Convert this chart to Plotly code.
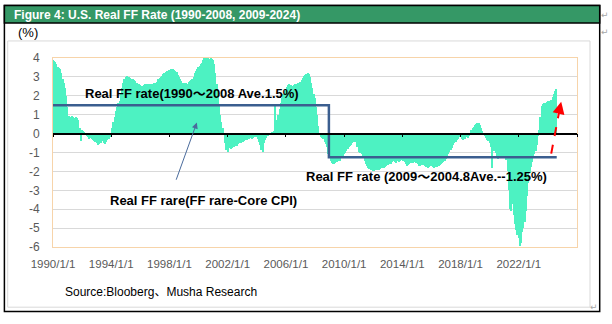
import plotly.graph_objects as go
import pandas as pd

# ---------------- data (monthly real FF rate, %) ----------------
ff_1990s = [
    3.9, 3.85, 3.8, 3.7, 3.5, 3.45, 3.4, 3.2, 2.9, 2.7, 2.4, 2.0,
    1.4, 0.95, 0.9, 0.85, 0.95, 0.9, 0.8, 0.9, 0.85, 0.7, 0.3, -0.4,
    0.2, 0.15, 0.1, -0.1, -0.15, -0.2, -0.3, -0.25, -0.3, -0.35, -0.4, -0.45,
    -0.5, -0.6, -0.55, -0.45, -0.5, -0.4, -0.5, -0.55, -0.45, -0.35, -0.3, -0.2,
    -0.05, 0.3, 0.6, 0.9, 1.2, 1.4, 1.6, 1.75, 2.1, 2.4, 2.7, 2.9,
    3.0, 3.05, 3.0, 3.0, 2.95, 2.9, 2.9, 2.85, 2.8, 2.7, 2.65, 2.6,
    2.55, 2.5, 2.5, 2.55, 2.6, 2.55, 2.6, 2.6, 2.65, 2.6, 2.65, 2.7,
    2.7, 2.7, 2.75, 2.9, 2.95, 3.0, 3.05, 3.15, 3.2, 3.25, 3.3, 3.3,
    3.35, 3.4, 3.35, 3.4, 3.35, 3.3, 3.25, 3.1, 3.0, 2.9, 2.8, 2.7,
    2.7, 2.65, 2.7, 2.6, 2.75, 2.8, 2.85, 2.9, 3.0, 3.2, 3.3, 3.4,
]
ff_2000s = [
    3.5, 3.6, 3.7, 3.75, 3.9, 4.0, 4.05, 4.0, 4.0, 3.95, 4.0, 3.95,
    3.9, 3.7, 3.2, 2.6, 2.0, 1.5, 1.0, 0.6, 0.3, -0.1, -0.5, -0.85,
    -0.95, -0.75, -0.7, -0.8, -0.75, -0.7, -0.65, -0.6, -0.65, -0.55, -0.5, -0.5,
    -0.45, -0.45, -0.4, -0.35, -0.35, -0.3, -0.3, -0.25, -0.3, -0.25, -0.2, -0.2,
    -0.2, -0.3, -0.45, -0.6, -0.85, -0.95, -0.5, -0.35, -0.25, -0.15, -0.1, -0.05,
    0.0, 0.05, 0.15, 1.5, 0.4, 0.7, 1.0, 1.3, 1.6, 1.9, 2.1, 2.25,
    2.35, 2.45, 2.55, 2.6, 2.55, 2.5, 2.5, 2.55, 2.6, 2.65, 2.7, 2.7,
    2.75, 2.85, 2.95, 3.05, 3.1, 3.15, 3.2, 3.15, 3.0, 2.7, 2.4, 2.1,
    1.9, 1.4, 1.0, 0.4, 0.0, -0.2, -0.25, -0.3, -0.45, -0.55, -0.7, -1.1,
    -1.3, -1.45, -1.55, -1.6, -1.6, -1.55, -1.5, -1.45, -1.3, -1.45, -1.3, -1.2,
]
ff_2010s = [
    -1.1, -1.0, -0.9, -0.8, -0.7, -0.65, -0.6, -0.5, -0.45, -0.35, -0.45, -0.7,
    -0.95, -1.0, -1.05, -1.1, -1.3, -1.45, -1.6, -1.7, -1.8, -1.85, -1.9, -1.95,
    -2.0, -2.0, -1.95, -1.9, -1.85, -1.9, -1.85, -1.8, -1.75, -1.8, -1.75, -1.7,
    -1.65, -1.6, -1.55, -1.6, -1.5, -1.45, -1.5, -1.55, -1.45, -1.5, -1.45, -1.4,
    -1.4, -1.45, -1.5, -1.6, -1.7, -1.65, -1.6, -1.55, -1.5, -1.55, -1.5, -1.55,
    -1.55, -1.6, -1.7, -1.7, -1.65, -1.6, -1.65, -1.7, -1.75, -1.8, -1.75, -1.7,
    -1.7, -1.75, -1.8, -1.75, -1.7, -1.75, -1.7, -1.65, -1.6, -1.55, -1.5, -1.45,
    -1.35, -1.25, -1.1, -0.95, -0.85, -0.75, -0.6, -0.5, -0.45, -0.35, -0.3, -0.2,
    -0.15, -0.3, -0.35, -0.25, -0.3, -0.2, -0.25, -0.15, -0.1, 0.2, 0.3, 0.35,
    0.45, 0.5, 0.55, 0.55, 0.45, 0.3, 0.15, 0.0, -0.15, -0.25, -0.35, -0.4,
]
ff_2020s = [
    -0.5, -0.7, -1.8, -0.8, -0.9, -1.0, -1.2, -1.35, -1.25, -1.3, -1.2, -1.25,
    -1.3, -1.2, -1.4, -2.0, -3.0, -4.0, -4.1, -3.7, -4.3, -4.8, -5.1, -5.35,
    -5.5, -5.95, -5.8, -5.2, -5.0, -4.7, -4.1, -3.3, -2.6, -2.1, -1.75, -1.5,
    -1.3, -1.1, -0.9, -0.6, -0.15, 0.2, 0.9, 1.45, 1.55, 1.6, 1.6, 1.65,
    1.7, 1.7, 1.75, 1.8, 1.95, 2.1, 2.25, 2.35,
]

# period averages (step line)
avg_dates = ["1990-01-01", "2008-12-15", "2024-08-10"]
avg_values = [1.5, -1.25, -1.25]

# axis ticks
tick_years = [1990, 1994, 1998, 2002, 2006, 2010, 2014, 2018, 2022]
tick_labels = [f"{y}/1/1" for y in tick_years]
minor_tick_years = tick_years + [2026]
y_ticks = [4, 3, 2, 1, 0, -1, -2, -3, -4, -5, -6]
y_tick_labels = [str(v) for v in y_ticks]

# annotation arrows (data coords)
blue_arrow_tail = ("1998-06-06", -2.52)
blue_arrow_head = ("1999-11-20", 0.585)
red_arrow_tail = ("2024-03-25", -1.06)
red_arrow_mid = ("2024-11-01", 1.40)
red_arrow_head = ("2024-12-01", 1.68)

values = ff_1990s + ff_2000s + ff_2010s + ff_2020s
dates = pd.date_range("1990-01-01", periods=len(values), freq="MS")

# ---------------- layout geometry ----------------
W, H = 612, 324
L, R, T, B = 53.3, 577.3, 58.3, 246.7


def px(x):
    return (x - L) / (R - L)


def py(y):
    return (B - y) / (B - T)


FONT = "Liberation Sans, Arial, Noto Sans CJK JP, sans-serif"
GREEN = "#4DF2C2"
BLUE = "#3B5E8F"
PEACH = "#F7D4AA"

fig = go.Figure()

fig.add_trace(go.Bar(
    x=dates, y=values, marker=dict(color=GREEN, line=dict(width=0)),
    width=31 * 86400000, hoverinfo="skip", showlegend=False,
))

fig.add_trace(go.Scatter(
    x=avg_dates, y=avg_values, mode="lines", line=dict(color=BLUE, width=2.5, shape="hv"),
    xaxis="x2", yaxis="y", showlegend=False, hoverinfo="skip",
))

x_range = ["1990-01-01", "2026-01-01"]

fig.update_layout(
    width=W, height=H,
    margin=dict(l=L, r=W - R, t=T, b=H - B, pad=0),
    paper_bgcolor="white", plot_bgcolor="white",
    bargap=0, showlegend=False,
    xaxis=dict(
        range=x_range, type="date",
        tickvals=[f"{y}-01-01" for y in tick_years], ticktext=tick_labels,
        tickfont=dict(family=FONT, size=11.5, color="#595959"),
        showgrid=False, zeroline=False,
        showline=True, mirror=True, linecolor=PEACH, linewidth=1,
        ticks="", ticklabelstandoff=6,
    ),
    xaxis2=dict(
        range=x_range, type="date", overlaying="x", anchor="free", position=0.6,
        side="bottom", showgrid=False, zeroline=False,
        showline=True, linecolor="black", linewidth=1.5,
        tickvals=[f"{y}-01-01" for y in minor_tick_years],
        ticks="outside", ticklen=3, tickwidth=1, tickcolor="black",
        showticklabels=False,
    ),
    yaxis=dict(
        range=[-6, 4], tickvals=y_ticks, ticktext=y_tick_labels,
        tickfont=dict(family=FONT, size=12, color="#595959"),
        showgrid=True, gridcolor="#D9D9D9", gridwidth=1, zeroline=False,
        showline=True, mirror=True, linecolor=PEACH, linewidth=1,
        ticks="", ticklabelstandoff=10,
    ),
)

shapes = [
    # outer black frame
    dict(type="rect", xref="paper", yref="paper", x0=px(4.7), x1=px(600), y0=py(311), y1=py(6),
         line=dict(color="black", width=1.5), fillcolor="rgba(0,0,0,0)", layer="below"),
    # green title bar
    dict(type="rect", xref="paper", yref="paper", x0=px(4.7), x1=px(600), y0=py(23.3), y1=py(6),
         line=dict(color="black", width=1.5), fillcolor="#359866", layer="below"),
    # inner grey chart frame
    dict(type="rect", xref="paper", yref="paper", x0=px(8), x1=px(590.3), y0=py(306.7), y1=py(41.3),
         line=dict(color="#D9D9D9", width=1), fillcolor="rgba(0,0,0,0)", layer="below"),
    # red dashed arrow shaft
    dict(type="line", xref="x", yref="y", x0=red_arrow_tail[0], y0=red_arrow_tail[1],
         x1=red_arrow_mid[0], y1=red_arrow_mid[1], line=dict(color="#FF0000", width=2, dash="dash")),
]
fig.update_layout(shapes=shapes)

ann = []
ann.append(dict(xref="paper", yref="paper", x=px(12), y=py(15), xanchor="left", yanchor="middle",
                text="<b>Figure 4: U.S. Real FF Rate (1990-2008, 2009-2024)</b>", showarrow=False,
                font=dict(family=FONT, size=12, color="white")))
ann.append(dict(xref="paper", yref="paper", x=px(16), y=py(33), xanchor="left", yanchor="middle",
                text="(%)", showarrow=False, font=dict(family=FONT, size=13, color="black")))
ann.append(dict(xref="paper", yref="paper", x=px(83), y=py(93.3), xanchor="left", yanchor="middle",
                text="<b>Real FF rate(1990～2008 Ave.1.5%)</b>", showarrow=False,
                font=dict(family=FONT, size=13, color="black")))
ann.append(dict(xref="paper", yref="paper", x=px(108), y=py(200.7), xanchor="left", yanchor="middle",
                text="<b>Real FF rare(FF rare-Core CPI)</b>", showarrow=False,
                font=dict(family=FONT, size=13, color="black")))
ann.append(dict(xref="paper", yref="paper", x=px(304), y=py(176), xanchor="left", yanchor="middle",
                text="<b>Real FF rate (2009～2004.8Ave.--1.25%)</b>", showarrow=False,
                font=dict(family=FONT, size=13, color="black")))
ann.append(dict(xref="paper", yref="paper", x=px(63), y=py(291.5), xanchor="left", yanchor="middle",
                text="Source:Blooberg、Musha Research", showarrow=False,
                font=dict(family=FONT, size=12, color="black")))
# blue pointer arrow
ann.append(dict(xref="x", yref="y", axref="x", ayref="y",
                x=blue_arrow_head[0], y=blue_arrow_head[1], ax=blue_arrow_tail[0], ay=blue_arrow_tail[1],
                text="", showarrow=True, arrowhead=2, arrowsize=1.2, arrowwidth=1, arrowcolor="#4A6B9C"))
# red arrow head
ann.append(dict(xref="x", yref="y", axref="x", ayref="y",
                x=red_arrow_head[0], y=red_arrow_head[1], ax=red_arrow_mid[0], ay=red_arrow_mid[1],
                text="", showarrow=True, arrowhead=2, arrowsize=1.2, arrowwidth=2, arrowcolor="#FF0000"))
# paragraph marks
for (mx, my) in [(605, 15), (605, 32), (594, 307)]:
    ann.append(dict(xref="paper", yref="paper", x=px(mx), y=py(my), xanchor="center", yanchor="middle",
                    text="↵", showarrow=False, font=dict(family="DejaVu Sans", size=9, color="#A6A6A6")))
fig.update_layout(annotations=ann)

fig.write_html("out.html")
